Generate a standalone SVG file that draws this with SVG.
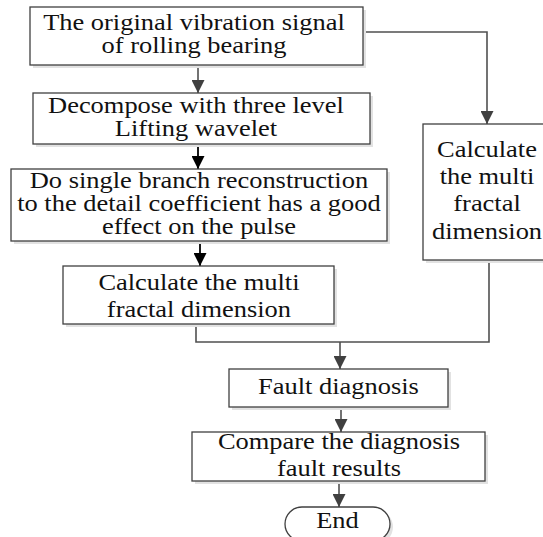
<svg xmlns="http://www.w3.org/2000/svg" width="543" height="537" viewBox="0 0 543 537">
<style>
.box{fill:#fff;stroke:#404040;stroke-width:1.3}
.sh{fill:#e2e2e2;stroke:none}
.t{font-family:"Liberation Serif","Times New Roman",serif;font-size:23px;fill:#111;text-anchor:middle}
.c{fill:none;stroke:#505050;stroke-width:1.6}
.cb{fill:none;stroke:#000;stroke-width:1.8}
</style>
<defs>
<marker id="ag" markerUnits="userSpaceOnUse" markerWidth="13" markerHeight="13" refX="13" refY="6.5" orient="auto">
<path d="M0,0 L13,6.5 L0,13 z" fill="#404040"/>
</marker>
<marker id="ab" markerUnits="userSpaceOnUse" markerWidth="13" markerHeight="13" refX="13" refY="6.5" orient="auto">
<path d="M0,0 L13,6.5 L0,13 z" fill="#000"/>
</marker>
</defs>
<rect width="543" height="537" fill="#fff"/>
<g id="connectors">
<path class="c" d="M198,65 V93" marker-end="url(#ag)"/>
<path class="cb" d="M198,144 V169" marker-end="url(#ab)"/>
<path class="cb" d="M200,241 V266" marker-end="url(#ab)"/>
<path class="c" d="M365,32 H487 V124" marker-end="url(#ag)"/>
<path class="c" d="M196,324 V342 H489 V260"/>
<path class="c" d="M340,342 V369" marker-end="url(#ag)"/>
<path class="c" d="M341,407 V432" marker-end="url(#ag)"/>
<path class="c" d="M339,481 V507" marker-end="url(#ag)"/>
</g>
<g id="n1">
<rect class="sh" x="33" y="10" width="333" height="58"/>
<rect class="box" x="30" y="7" width="333" height="58"/>
<text class="t" transform="scale(1.15,1)" x="168.7" y="30">The original vibration signal</text>
<text class="t" transform="scale(1.15,1)" x="168.7" y="53">of rolling bearing</text>
</g>
<g id="n2">
<rect class="sh" x="36" y="96" width="337" height="51"/>
<rect class="box" x="33" y="93" width="337" height="51"/>
<text class="t" transform="scale(1.15,1)" x="170.4" y="113">Decompose with three level</text>
<text class="t" transform="scale(1.15,1)" x="170.4" y="136">Lifting wavelet</text>
</g>
<g id="n3">
<rect class="sh" x="14" y="172" width="376" height="72"/>
<rect class="box" x="11" y="169" width="376" height="72"/>
<text class="t" transform="scale(1.15,1)" x="173" y="188">Do single branch reconstruction</text>
<text class="t" transform="scale(1.15,1)" x="173" y="211">to the detail coefficient has a good</text>
<text class="t" transform="scale(1.15,1)" x="173" y="234">effect on the pulse</text>
</g>
<g id="n4">
<rect class="sh" x="66" y="269" width="271" height="58"/>
<rect class="box" x="63" y="266" width="271" height="58"/>
<text class="t" transform="scale(1.15,1)" x="173" y="290">Calculate the multi</text>
<text class="t" transform="scale(1.15,1)" x="173" y="317">fractal dimension</text>
</g>
<g id="n5">
<rect class="sh" x="426" y="127" width="128" height="136"/>
<rect class="box" x="423" y="124" width="128" height="136"/>
<text class="t" transform="scale(1.15,1)" x="423.5" y="157">Calculate</text>
<text class="t" transform="scale(1.15,1)" x="423.5" y="184">the multi</text>
<text class="t" transform="scale(1.15,1)" x="423.5" y="211">fractal</text>
<text class="t" transform="scale(1.15,1)" x="423.5" y="239">dimension</text>
</g>
<g id="n6">
<rect class="sh" x="232" y="372" width="219" height="38"/>
<rect class="box" x="229" y="369" width="219" height="38"/>
<text class="t" transform="scale(1.15,1)" x="294.3" y="394">Fault diagnosis</text>
</g>
<g id="n7">
<rect class="sh" x="195" y="435" width="293" height="49"/>
<rect class="box" x="192" y="432" width="293" height="49"/>
<text class="t" transform="scale(1.15,1)" x="294.8" y="449">Compare the diagnosis</text>
<text class="t" transform="scale(1.15,1)" x="294.8" y="476">fault results</text>
</g>
<g id="n8">
<rect class="sh" x="288" y="510" width="105" height="34" rx="17"/>
<rect class="box" x="285" y="507" width="105" height="34" rx="17"/>
<text class="t" transform="scale(1.15,1)" x="293.5" y="528">End</text>
</g>
</svg>
